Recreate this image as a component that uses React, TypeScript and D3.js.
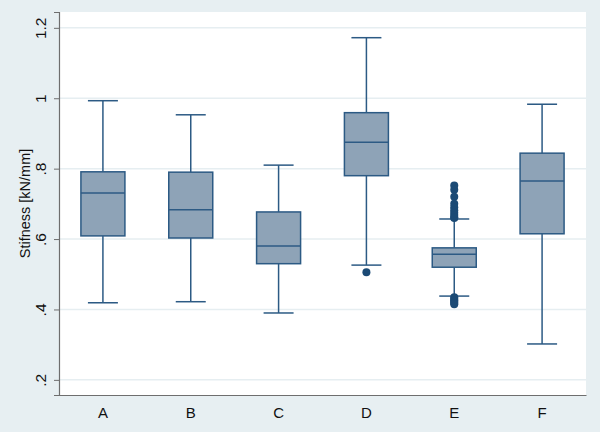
import React, { useEffect, useRef } from "react";
import * as d3 from "d3";

const groups = ["A", "B", "C", "D", "E", "F"];
const lowWhisker = [0.419, 0.422, 0.39, 0.526, 0.438, 0.302];
const q1 = [0.609, 0.603, 0.53, 0.78, 0.52, 0.615];
const median = [0.731, 0.683, 0.58, 0.875, 0.557, 0.765];
const q3 = [0.791, 0.79, 0.677, 0.959, 0.575, 0.844];
const highWhisker = [0.993, 0.953, 0.81, 1.172, 0.657, 0.983];
const outlierGroup = ["D", "E", "E", "E", "E", "E", "E", "E", "E", "E", "E", "E", "E", "E", "E", "E", "E"];
const outlierValue = [0.506, 0.752, 0.74, 0.72, 0.7, 0.69, 0.682, 0.675, 0.668, 0.662, 0.66, 0.435, 0.43, 0.426, 0.422, 0.418, 0.415];
const yTicks = [0.2, 0.4, 0.6, 0.8, 1, 1.2];

function App() {
  const svgRef = useRef<SVGSVGElement>(null);

  useEffect(() => {
    const svg = d3.select(svgRef.current);
    svg.selectAll("*").remove();
    const width = 600;
    const height = 432;
    const margin = { top: 12, right: 14, bottom: 37, left: 59 };
    const lineColor = "#2c5a84";
    const fillColor = "#8ea3b7";
    const dotColor = "#1b4a75";
    const font = "Liberation Sans, Arial, sans-serif";

    svg.append("rect").attr("width", width).attr("height", height).attr("fill", "#e7eff2");
    svg
      .append("rect")
      .attr("x", margin.left)
      .attr("y", margin.top)
      .attr("width", width - margin.left - margin.right)
      .attr("height", height - margin.top - margin.bottom)
      .attr("fill", "#ffffff");

    const x = d3
      .scaleBand()
      .domain(groups)
      .range([margin.left, width - margin.right]);
    const y = d3
      .scaleLinear()
      .domain([0.157, 1.245])
      .range([height - margin.bottom, margin.top]);

    // grid lines
    svg
      .append("g")
      .selectAll("line")
      .data(yTicks)
      .join("line")
      .attr("x1", margin.left)
      .attr("x2", width - margin.right)
      .attr("y1", (d) => y(d))
      .attr("y2", (d) => y(d))
      .attr("stroke", "#e6eef1")
      .attr("stroke-width", 1.5);

    const boxW = 44;
    const capW = 30;
    const boxes = svg
      .append("g")
      .selectAll("g")
      .data(groups)
      .join("g")
      .attr("transform", (d) => `translate(${x(d)! + x.bandwidth() / 2},0)`);

    // whiskers
    boxes
      .append("line")
      .attr("y1", (d, i) => y(highWhisker[i]))
      .attr("y2", (d, i) => y(q3[i]))
      .attr("stroke", lineColor)
      .attr("stroke-width", 1.5);
    boxes
      .append("line")
      .attr("y1", (d, i) => y(q1[i]))
      .attr("y2", (d, i) => y(lowWhisker[i]))
      .attr("stroke", lineColor)
      .attr("stroke-width", 1.5);
    boxes
      .append("line")
      .attr("x1", -capW / 2)
      .attr("x2", capW / 2)
      .attr("y1", (d, i) => y(highWhisker[i]))
      .attr("y2", (d, i) => y(highWhisker[i]))
      .attr("stroke", lineColor)
      .attr("stroke-width", 1.5);
    boxes
      .append("line")
      .attr("x1", -capW / 2)
      .attr("x2", capW / 2)
      .attr("y1", (d, i) => y(lowWhisker[i]))
      .attr("y2", (d, i) => y(lowWhisker[i]))
      .attr("stroke", lineColor)
      .attr("stroke-width", 1.5);

    // boxes
    boxes
      .append("rect")
      .attr("x", -boxW / 2)
      .attr("width", boxW)
      .attr("y", (d, i) => y(q3[i]))
      .attr("height", (d, i) => y(q1[i]) - y(q3[i]))
      .attr("fill", fillColor)
      .attr("stroke", lineColor)
      .attr("stroke-width", 1.5);
    boxes
      .append("line")
      .attr("x1", -boxW / 2)
      .attr("x2", boxW / 2)
      .attr("y1", (d, i) => y(median[i]))
      .attr("y2", (d, i) => y(median[i]))
      .attr("stroke", lineColor)
      .attr("stroke-width", 1.5);

    // outliers
    svg
      .append("g")
      .selectAll("circle")
      .data(outlierValue)
      .join("circle")
      .attr("cx", (d, i) => x(outlierGroup[i])! + x.bandwidth() / 2)
      .attr("cy", (d) => y(d))
      .attr("r", 4)
      .attr("fill", dotColor);

    // y axis, labels rotated like Stata
    const yAxis = d3
      .axisLeft(y)
      .tickValues(yTicks)
      .tickSize(5)
      .tickFormat((d) => d3.format(".1f")(d as number).replace(/^0/, "").replace(/\.0$/, ""));
    const gy = svg
      .append("g")
      .attr("transform", `translate(${margin.left},0)`)
      .call(yAxis);
    gy.select(".domain").attr("stroke", "#6e6e6e").attr("stroke-width", 1.2);
    gy.selectAll(".tick line").attr("stroke", "#6e6e6e");
    gy.selectAll(".tick text")
      .attr("font-family", font)
      .attr("font-size", 15.5)
      .attr("fill", "#111")
      .attr("text-anchor", "middle")
      .attr("transform", "rotate(-90)")
      .attr("x", 0)
      .attr("y", -13)
      .attr("dy", 0);

    const xAxis = d3.axisBottom(x).tickSize(0).tickPadding(12);
    const gx = svg
      .append("g")
      .attr("transform", `translate(0,${height - margin.bottom})`)
      .call(xAxis);
    gx.select(".domain").attr("stroke", "#6e6e6e").attr("stroke-width", 1.2);
    gx.selectAll(".tick text")
      .attr("font-family", font)
      .attr("font-size", 15)
      .attr("fill", "#111");

    svg
      .append("text")
      .attr("transform", "rotate(-90)")
      .attr("x", -(margin.top + (height - margin.top - margin.bottom) / 2))
      .attr("y", 30)
      .attr("text-anchor", "middle")
      .attr("font-family", font)
      .attr("font-size", 14.5)
      .attr("fill", "#111")
      .text("Stifness [kN/mm]");
  }, []);

  return (
    <svg
      ref={svgRef}
      width={600}
      height={432}
      style={{ position: "absolute", left: 0, top: 0 }}
    ></svg>
  );
}

export default App;
